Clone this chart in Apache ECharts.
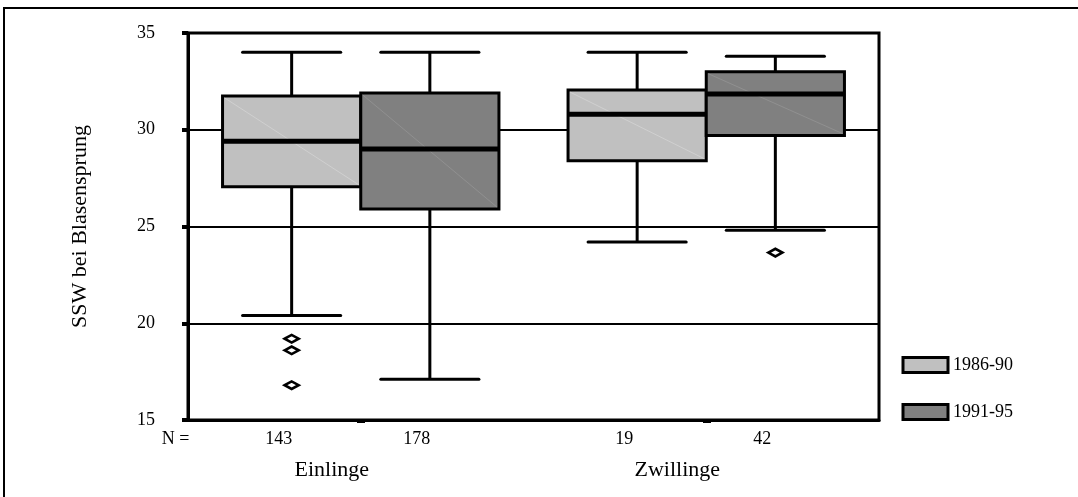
<!DOCTYPE html>
<html>
<head>
<meta charset="utf-8">
<script src="https://cdn.jsdelivr.net/npm/echarts@6/dist/echarts.min.js"></script>
<style>
html,body{margin:0;padding:0;background:#fff;}
#chart{width:1078px;height:497px;}
</style>
</head>
<body>
<div id="chart"></div>
<script>
// ---- data ----
const categories = ['Einlinge', 'Zwillinge'];
const periods = ['1986-90', '1991-95'];
// [lower whisker, Q1, median, Q3, upper whisker]
const box8690 = [[20.4, 27.05, 29.4, 31.75, 34.0], [24.2, 28.4, 30.8, 32.05, 34.0]];
const box9195 = [[17.1, 25.9, 29.0, 31.9, 34.0], [24.8, 29.7, 31.85, 33.0, 33.8]];
const outliers8690 = [[0, 19.2], [0, 18.6], [0, 16.8]];
const outliers9195 = [[1, 23.65]];
const n8690 = [143, 19];
const n9195 = [178, 42];
const yMin = 15, yMax = 35, yStep = 5;
const yName = 'SSW bei Blasensprung';
const nLabel = 'N =';

const FONT = '"Liberation Serif", "Times New Roman", serif';
const colors = ['#c0c0c0', '#808080'];
const diagColors = ['#dadada', '#9a9a9a'];

function boxRender(pos, fill, diag) {
  return function (params, api) {
    const cat = api.value(0);
    const low = api.value(1), q1 = api.value(2), med = api.value(3), q3 = api.value(4), high = api.value(5);
    const n = api.value(6);
    const band = api.size([1, 0])[0];
    const boxW = band * 0.4;
    const capW = boxW * 0.71;
    const cx = api.coord([cat, med])[0] + pos * band * 0.2;
    const yL = api.coord([cat, low])[1];
    const y1 = api.coord([cat, q1])[1];
    const yM = api.coord([cat, med])[1];
    const y3 = api.coord([cat, q3])[1];
    const yH = api.coord([cat, high])[1];
    const bottom = params.coordSys.y + params.coordSys.height;
    const lineStyle = { stroke: '#000', lineWidth: 3 };
    return {
      type: 'group',
      children: [
        { type: 'line', shape: { x1: cx, y1: yL, x2: cx, y2: yH }, style: lineStyle },
        { type: 'line', shape: { x1: cx - capW / 2, y1: yL, x2: cx + capW / 2, y2: yL }, style: { stroke: '#000', lineWidth: 3, lineCap: 'round' } },
        { type: 'line', shape: { x1: cx - capW / 2, y1: yH, x2: cx + capW / 2, y2: yH }, style: { stroke: '#000', lineWidth: 3, lineCap: 'round' } },
        { type: 'rect', shape: { x: cx - boxW / 2, y: y3, width: boxW, height: y1 - y3 }, style: { fill: fill, stroke: '#000', lineWidth: 3 } },
        { type: 'line', shape: { x1: cx - boxW / 2 + 2, y1: y3 + 2, x2: cx + boxW / 2 - 2, y2: y1 - 2 }, style: { stroke: diag, lineWidth: 0.6 } },
        { type: 'line', shape: { x1: cx - boxW / 2, y1: yM, x2: cx + boxW / 2, y2: yM }, style: { stroke: '#000', lineWidth: 5 } },
        { type: 'text', style: { text: String(n), x: cx - 13, y: bottom + 19, align: 'center', verticalAlign: 'middle', font: '18px ' + FONT, fill: '#000' } }
      ]
    };
  };
}

function outlierRender(pos) {
  return function (params, api) {
    const cat = api.value(0);
    const v = api.value(1);
    const band = api.size([1, 0])[0];
    const p = api.coord([cat, v]);
    const cx = p[0] + pos * band * 0.2;
    const cy = p[1];
    return {
      type: 'polygon',
      shape: { points: [[cx - 7, cy], [cx, cy - 3.8], [cx + 7, cy], [cx, cy + 3.8]] },
      style: { fill: '#fff', stroke: '#000', lineWidth: 2.6 }
    };
  };
}

const data8690 = categories.map((c, i) => [i].concat(box8690[i], [n8690[i]]));
const data9195 = categories.map((c, i) => [i].concat(box9195[i], [n9195[i]]));

const chart = echarts.init(document.getElementById('chart'), null, { renderer: 'canvas' });
chart.setOption({
  animation: false,
  backgroundColor: '#fff',
  textStyle: { fontFamily: FONT },
  graphic: [
    { type: 'rect', shape: { x: 4, y: 8, width: 1200, height: 700 }, style: { fill: 'none', stroke: '#000', lineWidth: 2 }, silent: true, z: -10 },
    { type: 'text', style: { text: nLabel, x: 175.5, y: 439, align: 'center', verticalAlign: 'middle', font: '18px ' + FONT, fill: '#000' } }
  ],
  grid: { left: 188, right: 199, top: 33, bottom: 77, show: true, borderColor: '#000', borderWidth: 3, backgroundColor: 'transparent' },
  legend: {
    orient: 'vertical',
    left: 896.5,
    top: 351,
    itemWidth: 45,
    itemHeight: 15,
    itemGap: 29,
    icon: 'rect',
    textStyle: { fontFamily: FONT, fontSize: 18, color: '#000' },
    itemStyle: { borderColor: '#000', borderWidth: 3 },
    data: periods.map((p, i) => ({ name: p, icon: 'rect', itemStyle: { color: colors[i], borderColor: '#000', borderWidth: 3 } }))
  },
  xAxis: {
    type: 'category',
    data: categories,
    boundaryGap: true,
    axisLine: { show: true, lineStyle: { color: '#000', width: 3 } },
    axisTick: { show: true, alignWithLabel: true, length: 3, lineStyle: { color: '#000', width: 8 } },
    axisLabel: { color: '#000', fontFamily: FONT, fontSize: 22, margin: 39, padding: [0, 58, 0, 0] },
    splitLine: { show: false }
  },
  yAxis: {
    type: 'value',
    min: yMin,
    max: yMax,
    interval: yStep,
    name: yName,
    nameLocation: 'middle',
    nameGap: 97,
    nameRotate: 90,
    nameTextStyle: { color: '#000', fontFamily: FONT, fontSize: 22 },
    axisLine: { show: true, lineStyle: { color: '#000', width: 3 } },
    axisTick: { show: true, length: 6, lineStyle: { color: '#000', width: 4 } },
    axisLabel: { color: '#000', fontFamily: FONT, fontSize: 18, margin: 33 },
    splitLine: { show: true, lineStyle: { color: '#000', width: 2 } }
  },
  series: [
    { name: periods[0], type: 'custom', itemStyle: { color: colors[0] }, encode: { x: 0, y: [1, 2, 3, 4, 5] }, renderItem: boxRender(-1, colors[0], diagColors[0]), data: data8690, z: 3 },
    { name: periods[1], type: 'custom', itemStyle: { color: colors[1] }, encode: { x: 0, y: [1, 2, 3, 4, 5] }, renderItem: boxRender(1, colors[1], diagColors[1]), data: data9195, z: 3 },
    { name: 'out8690', type: 'custom', encode: { x: 0, y: 1 }, renderItem: outlierRender(-1), data: outliers8690, z: 4 },
    { name: 'out9195', type: 'custom', encode: { x: 0, y: 1 }, renderItem: outlierRender(1), data: outliers9195, z: 4 }
  ]
});
</script>
</body>
</html>
